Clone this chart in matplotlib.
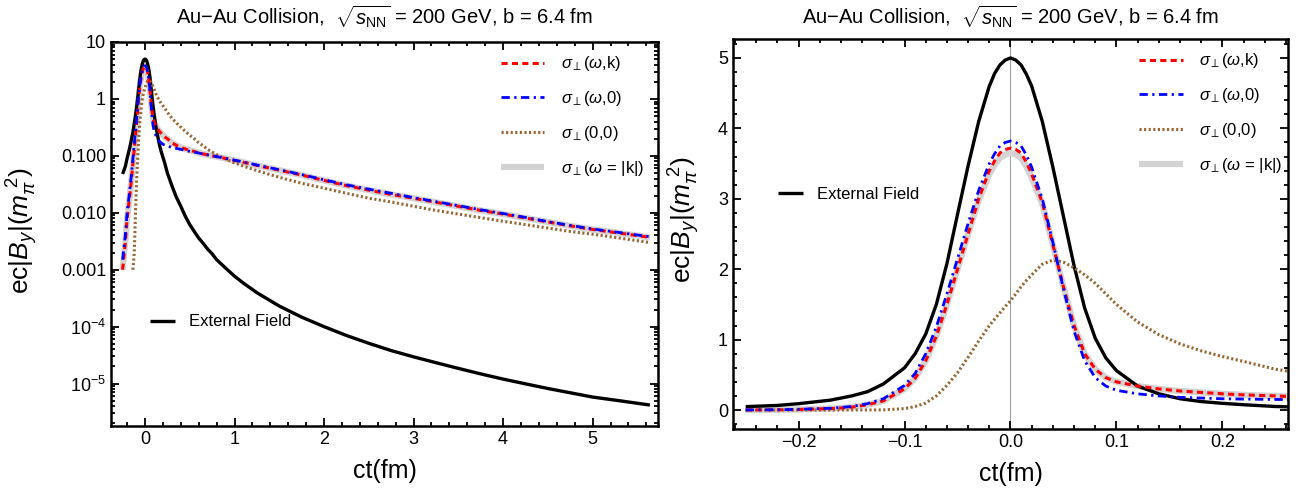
import numpy as np
import matplotlib
matplotlib.use("Agg")
from matplotlib import pyplot as plt
from matplotlib.ticker import FixedLocator, MultipleLocator, NullFormatter

plt.rcParams["font.family"] = ["Liberation Sans", "DejaVu Sans"]
plt.rcParams["mathtext.fontset"] = "custom"
plt.rcParams["mathtext.rm"] = "Liberation Sans"
plt.rcParams["mathtext.it"] = "Liberation Sans:italic"
plt.rcParams["mathtext.bf"] = "Liberation Sans:bold"

# ct (fm) sample points
ct = [-0.25, -0.22, -0.2, -0.17, -0.15, -0.135, -0.12, -0.1, -0.09, -0.08,
      -0.07, -0.06, -0.05, -0.04, -0.03, -0.02, -0.015, -0.01, -0.005, 0.0,
      0.005, 0.01, 0.015, 0.02, 0.03, 0.04, 0.05, 0.06, 0.07, 0.08,
      0.09, 0.1, 0.12, 0.14, 0.16, 0.18, 0.2, 0.22, 0.25, 0.3,
      0.35, 0.4, 0.45, 0.5, 0.55, 0.6, 0.65, 0.7, 0.75, 0.8,
      0.9, 1.0, 1.1, 1.25, 1.5, 1.75, 2.0, 2.25, 2.5, 2.75,
      3.0, 3.25, 3.5, 3.75, 4.0, 4.25, 4.5, 4.75, 5.0, 5.3,
      5.64]

b_external = [0.048, 0.065, 0.09, 0.14, 0.2, 0.26, 0.37, 0.6, 0.8, 1.08,
              1.5, 2.08, 2.78, 3.47, 4.1, 4.6, 4.78, 4.9, 4.97, 5.0,
              4.97, 4.9, 4.77, 4.6, 4.1, 3.45, 2.75, 2.05, 1.45, 1.02,
              0.74, 0.56, 0.34, 0.23, 0.16, 0.12, 0.095, 0.075, 0.05, 0.03,
              0.0188, 0.013, 0.0087, 0.0062, 0.0047, 0.0036, 0.0029, 0.0023, 0.0019, 0.0015,
              0.00107, 7.7e-4, 5.8e-4, 3.95e-4, 2.3e-4, 1.47e-4, 1.0e-4, 7.0e-5, 5.1e-5, 3.8e-5,
              2.95e-5, 2.33e-5, 1.85e-5, 1.48e-5, 1.2e-5, 9.9e-6, 8.2e-6, 6.9e-6, 5.8e-6, 5.0e-6,
              4.2e-6]

b_sigma_wk = [0.001, 0.003, 0.008, 0.02, 0.04, 0.075, 0.13, 0.3, 0.45, 0.7,
              1.05, 1.5, 2.0, 2.5, 3.0, 3.4, 3.54, 3.65, 3.70, 3.72,
              3.70, 3.65, 3.52, 3.35, 2.95, 2.35, 1.75, 1.2, 0.8, 0.58,
              0.46, 0.4, 0.34, 0.3, 0.27, 0.25, 0.23, 0.215, 0.2, 0.17,
              0.153, 0.14, 0.132, 0.125, 0.119, 0.113, 0.108, 0.104, 0.1, 0.097,
              0.09, 0.083, 0.077, 0.068, 0.056, 0.046, 0.037, 0.03, 0.025, 0.021,
              0.018, 0.0153, 0.013, 0.011, 0.0095, 0.0081, 0.0069, 0.0059, 0.0051, 0.0044,
              0.0037]

b_sigma_w0 = [0.0015, 0.004, 0.01, 0.025, 0.05, 0.09, 0.16, 0.35, 0.52, 0.8,
              1.18, 1.65, 2.15, 2.65, 3.12, 3.5, 3.64, 3.75, 3.80, 3.82,
              3.80, 3.75, 3.62, 3.45, 3.0, 2.38, 1.72, 1.12, 0.7, 0.46,
              0.34, 0.28, 0.23, 0.2, 0.18, 0.17, 0.16, 0.155, 0.15, 0.14,
              0.135, 0.13, 0.125, 0.12, 0.116, 0.112, 0.108, 0.104, 0.1, 0.097,
              0.09, 0.084, 0.078, 0.069, 0.057, 0.047, 0.038, 0.031, 0.026, 0.022,
              0.0185, 0.0157, 0.0133, 0.0113, 0.0097, 0.0083, 0.007, 0.006, 0.0052, 0.0045,
              0.0038]

b_sigma_00 = [0.0, 0.0, 0.0, 0.0, 0.0, 0.001, 0.002, 0.02, 0.05, 0.1,
              0.2, 0.35, 0.53, 0.75, 0.98, 1.2, 1.29, 1.38, 1.47, 1.55,
              1.65, 1.75, 1.84, 1.92, 2.07, 2.13, 2.1, 2.02, 1.92, 1.8,
              1.65, 1.5, 1.25, 1.07, 0.94, 0.84, 0.76, 0.69, 0.58, 0.46,
              0.38, 0.32, 0.27, 0.23, 0.2, 0.17, 0.15, 0.13, 0.117, 0.105,
              0.088, 0.075, 0.066, 0.055, 0.042, 0.033, 0.027, 0.022, 0.018, 0.0155,
              0.013, 0.011, 0.0095, 0.0082, 0.0071, 0.0062, 0.0054, 0.0047, 0.0042, 0.0036,
              0.003]

b_sigma_onshell = [0.001, 0.003, 0.008, 0.02, 0.04, 0.075, 0.13, 0.3, 0.45, 0.7,
                   1.05, 1.5, 2.0, 2.5, 2.98, 3.35, 3.48, 3.58, 3.63, 3.65,
                   3.63, 3.58, 3.46, 3.3, 2.93, 2.35, 1.75, 1.2, 0.8, 0.58,
                   0.46, 0.4, 0.34, 0.3, 0.27, 0.25, 0.23, 0.215, 0.2, 0.17,
                   0.153, 0.14, 0.132, 0.125, 0.119, 0.113, 0.108, 0.104, 0.1, 0.097,
                   0.09, 0.083, 0.077, 0.068, 0.056, 0.046, 0.037, 0.03, 0.025, 0.021,
                   0.018, 0.0153, 0.013, 0.011, 0.0095, 0.0081, 0.0069, 0.0059, 0.0051, 0.0044,
                   0.0037]

log_ticks = [1e-5, 1e-4, 1e-3, 1e-2, 1e-1, 1, 10]
log_tick_labels = ["$10^{-5}$", "$10^{-4}$", "0.001", "0.010", "0.100", "1", "10"]
lin_xticks = [-0.2, -0.1, 0.0, 0.1, 0.2]
lin_xtick_labels = ["\u22120.2", "\u22120.1", "0.0", "0.1", "0.2"]

title = r"Au$-$Au Collision,  $\sqrt{s_{\rm NN}}$ = 200 GeV, b = 6.4 fm"
ylabel = r"ec$|B_y|(m_{\pi}^{\ 2})$"

lbl_wk = r"$\sigma_{\perp}(\omega$,k)"
lbl_w0 = r"$\sigma_{\perp}(\omega$,0)"
lbl_00 = r"$\sigma_{\perp}$(0,0)"
lbl_on = r"$\sigma_{\perp}(\omega$ = |k|)"
lbl_ext = "External Field"

# drawing order: gray band at the bottom, blue on top
styles = [
    (b_sigma_onshell, dict(color="#d3d3d3", lw=4.5, ls="-"), lbl_on),
    (b_external, dict(color="black", lw=2.4, ls="-"), lbl_ext),
    (b_sigma_00, dict(color="#996633", lw=2.2, ls=(0, (0.7, 0.8))), lbl_00),
    (b_sigma_wk, dict(color="red", lw=2.2, ls=(0, (2.0, 1.4))), lbl_wk),
    (b_sigma_w0, dict(color="blue", lw=2.0, ls=(0, (3.0, 1.6, 0.8, 1.6))), lbl_w0),
]


def style_frame(ax):
    for sp in ax.spines.values():
        sp.set_linewidth(1.8)
    ax.tick_params(which="both", direction="in", top=True, right=True,
                   labelsize=13, width=1.3)
    ax.tick_params(which="major", length=6)
    ax.tick_params(which="minor", length=3)


def add_legends(ax, lines, loc_main, loc_ext):
    order = [lbl_wk, lbl_w0, lbl_00, lbl_on]
    leg = ax.legend([lines[k] for k in order], order, loc="upper left",
                    bbox_to_anchor=loc_main, frameon=False, fontsize=12,
                    labelspacing=0.95, handlelength=2.6, handletextpad=1.0,
                    borderaxespad=0)
    ax.add_artist(leg)
    ax.legend([lines[lbl_ext]], [lbl_ext], loc="upper left",
              bbox_to_anchor=loc_ext, frameon=False, fontsize=12,
              handlelength=1.5, handletextpad=0.8, borderaxespad=0)


def draw_curves(ax, log=False):
    lines = {}
    for vals, kw, lab in styles:
        v = np.array(vals)
        if log:
            v = np.ma.masked_less_equal(v, 0)
        (ln,) = ax.plot(ct, v, solid_capstyle="butt", **kw)
        lines[lab] = ln
    return lines


fig = plt.figure(figsize=(12.98, 4.95), dpi=100)
ax1 = fig.add_axes([0.0855, 0.1394, 0.4214, 0.7758])
ax2 = fig.add_axes([0.5647, 0.1333, 0.4276, 0.788])

# left panel: log scale
ax1.set_yscale("log")
lines1 = draw_curves(ax1, log=True)
ax1.set_xlim(-0.38, 5.73)
ax1.set_ylim(1.8e-6, 10)
ax1.set_yticks(log_ticks)
ax1.set_yticklabels(log_tick_labels)
ax1.yaxis.set_minor_locator(FixedLocator(
    [m * 10.0 ** e for e in range(-6, 1) for m in range(2, 10)]))
ax1.yaxis.set_minor_formatter(NullFormatter())
ax1.xaxis.set_major_locator(MultipleLocator(1))
ax1.xaxis.set_minor_locator(MultipleLocator(0.2))
style_frame(ax1)
ax1.set_xlabel("ct(fm)", fontsize=18, labelpad=8)
ax1.set_ylabel(ylabel, fontsize=19)
ax1.yaxis.set_label_coords(-0.13, 0.508)
add_legends(ax1, lines1, (0.70, 0.985), (0.06, 0.308))

# right panel: linear zoom around the peak
ax2.axvline(0, color="#999999", lw=0.7, zorder=0)
lines2 = draw_curves(ax2)
ax2.set_xlim(-0.262, 0.262)
ax2.set_ylim(-0.27, 5.27)
ax2.set_xticks(lin_xticks)
ax2.set_xticklabels(lin_xtick_labels)
ax2.xaxis.set_minor_locator(MultipleLocator(0.02))
ax2.yaxis.set_major_locator(MultipleLocator(1))
ax2.yaxis.set_minor_locator(MultipleLocator(0.2))
style_frame(ax2)
ax2.set_xlabel("ct(fm)", fontsize=18, labelpad=8)
ax2.set_ylabel(ylabel, fontsize=19)
ax2.yaxis.set_label_coords(-0.055, 0.535)
add_legends(ax2, lines2, (0.72, 0.985), (0.07, 0.637))

for ax in (ax1, ax2):
    pos = ax.get_position()
    fig.text((pos.x0 + pos.x1) / 2, 0.966, title, ha="center", va="center",
             fontsize=14.5)

fig.savefig("out.png", dpi=100)
